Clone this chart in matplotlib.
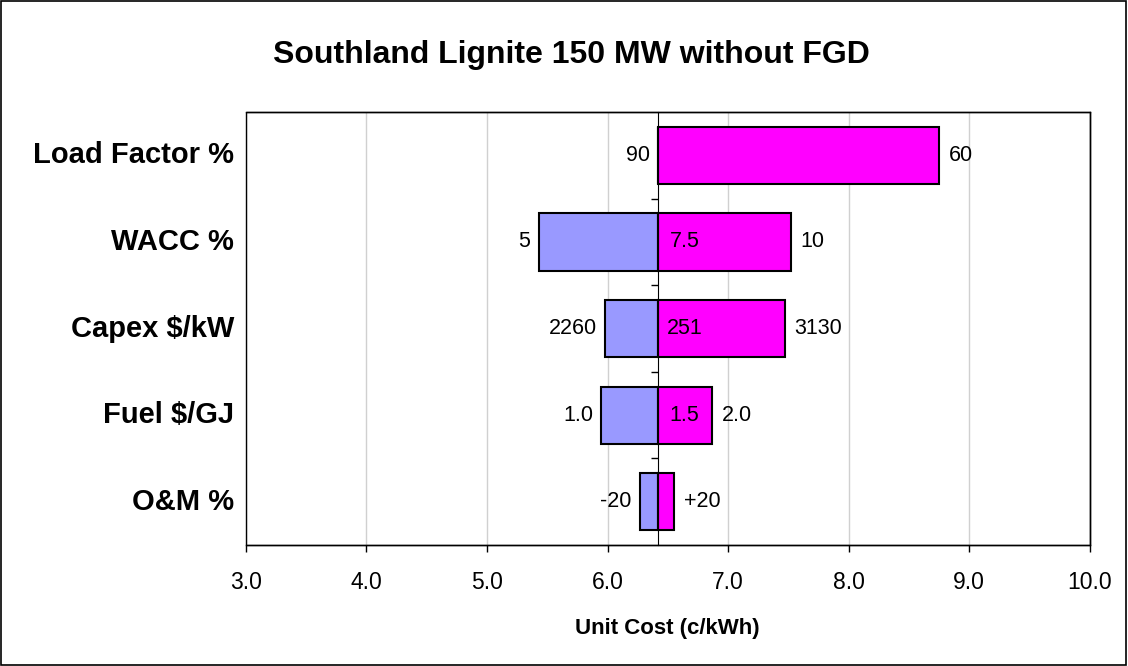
import matplotlib.pyplot as plt
import matplotlib.transforms as mtransforms
from matplotlib.patches import Rectangle
import numpy as np

plt.rcParams['font.family'] = ['Liberation Sans', 'DejaVu Sans']

# tornado data: unit cost (c/kWh) at low / high input values
categories = ['Load Factor %', 'WACC %', 'Capex $/kW', 'Fuel $/GJ', 'O&M %']
base_cost = 6.42
low_cost = [6.42, 5.43, 5.98, 5.95, 6.27]
high_cost = [8.75, 7.52, 7.47, 6.87, 6.55]
low_labels = ['90', '5', '2260', '1.0', '-20']
high_labels = ['60', '10', '3130', '2.0', '+20']
base_labels = ['', '7.5', '251', '1.5', '']
xticks = [3.0, 4.0, 5.0, 6.0, 7.0, 8.0, 9.0, 10.0]


def main():
    fig = plt.figure(figsize=(11.28, 6.66), dpi=100)
    ax = fig.add_axes([0.218, 0.1817, 0.748, 0.650])

    y = np.arange(len(categories))
    low = np.array(low_cost)
    high = np.array(high_cost)

    ax.barh(y, low - base_cost, left=base_cost, height=0.66,
            color='#9999ff', edgecolor='black', linewidth=1.5, zorder=2)
    ax.barh(y, high - base_cost, left=base_cost, height=0.66,
            color='#ff00ff', edgecolor='black', linewidth=1.5, zorder=2)

    for i in range(len(categories)):
        ax.annotate(low_labels[i], (low[i], y[i]), xytext=(-6, 0),
                    textcoords='offset points', ha='right', va='center',
                    fontsize=15.5)
        ax.annotate(high_labels[i], (high[i], y[i]), xytext=(7, 0),
                    textcoords='offset points', ha='left', va='center',
                    fontsize=15.5)
        if base_labels[i]:
            ax.annotate(base_labels[i], (base_cost, y[i]), xytext=(19, 0),
                        textcoords='offset points', ha='center', va='center',
                        fontsize=15.5)

    # category names left of the plot area
    trans = mtransforms.blended_transform_factory(ax.transAxes, ax.transData)
    for i, name in enumerate(categories):
        ax.text(-0.014, y[i], name, transform=trans, ha='right', va='center',
                fontsize=21, fontweight='bold')

    ax.set_xlim(3.0, 10.0)
    ax.set_ylim(len(categories) - 0.5, -0.5)
    ax.set_xticks(xticks)
    ax.set_xticklabels(['%.1f' % t for t in xticks])
    ax.set_yticks(np.arange(len(categories) - 1) + 0.5)
    ax.set_yticklabels([])
    ax.tick_params(axis='x', direction='out', length=5, width=1,
                   labelsize=16.5, pad=14)
    ax.tick_params(axis='y', direction='out', length=5, width=1)

    ax.grid(axis='x', color='#d0d0d0', linewidth=1)
    ax.set_axisbelow(True)

    # y axis crosses at the base value
    ax.spines['left'].set_position(('data', base_cost))
    ax.spines['left'].set_zorder(3)
    for s in ['top', 'right', 'bottom']:
        ax.spines[s].set_linewidth(1)
    ax.add_patch(Rectangle((0, 0), 1, 1, transform=ax.transAxes, fill=False,
                           edgecolor='black', linewidth=1, clip_on=False))

    ax.set_xlabel('Unit Cost (c/kWh)', fontsize=16, fontweight='bold',
                  labelpad=17)
    fig.text(0.507, 0.917, 'Southland Lignite 150 MW without FGD',
             ha='center', va='center', fontsize=23, fontweight='bold')

    fig.patches.append(Rectangle((0.001, 0.001), 0.997, 0.997,
                                 transform=fig.transFigure, fill=False,
                                 edgecolor='black', linewidth=1.2))

    fig.savefig('out.png', dpi=100)


if __name__ == "__main__":
    main()
